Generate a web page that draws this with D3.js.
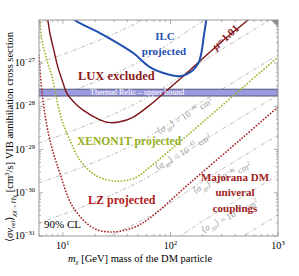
<!DOCTYPE html>
<meta charset="utf-8">
<head>
<style>
  body { margin: 0; background: #fff; }
  text { font-family: "Liberation Serif", "DejaVu Serif", serif; }
</style>
</head>
<body>
<script src="https://cdn.jsdelivr.net/npm/d3@7"></script>
<script>

// axis ticks
var xMajor = [10, 100, 1000];
var xMajorExp = ["1", "2", "3"];
var yMajor = [1e-31, 1e-30, 1e-29, 1e-28, 1e-27];
var yMajorExp = ["\u221231", "\u221230", "\u221229", "\u221228", "\u221227"];

// ILC projected
var ilcMass  = [11.6, 12.9, 22.1, 44.8, 64.4, 92.7, 122, 162, 184, 196, 203, 214, 223];
var ilcSigma = [1.4e-26, 1.0e-26, 5.0e-27, 1.74e-27, 8.1e-28, 5.6e-28, 5.0e-28, 6.9e-28, 1.07e-27, 2.0e-27, 3.8e-27, 9e-27, 1.7e-26];

// LUX excluded (joins the mu=1.01 line)
var luxMass  = [6.95, 7.24, 7.57, 8.24, 8.98, 10.0, 10.9, 12.9, 15.3, 22.1, 27.4, 33.9, 44.8, 64.4, 98.9, 152, 288, 526, 611];
var luxSigma = [1.55e-26, 1e-26, 5e-27, 2.0e-27, 8.1e-28, 3.6e-28, 2.0e-28, 1.2e-28, 8.3e-29, 4.9e-29, 4.2e-29, 4.4e-29, 5.6e-29, 1.07e-28, 2.7e-28, 6.9e-28, 2.9e-27, 1e-26, 1.4e-26];

// XENON1T projected
var xenonMass  = [6.11, 6.38, 7.10, 8.07, 8.79, 9.79, 11.6, 14.4, 19.9, 30.4, 46.8, 64.4, 145, 443, 1000];
var xenonSigma = [1e-26, 3.44e-27, 1.19e-27, 4.08e-28, 1.41e-28, 4.84e-29, 1.67e-29, 5.74e-30, 2.58e-30, 1.87e-30, 2.20e-30, 3.95e-30, 2.18e-29, 2.4e-28, 1.39e-27];

// LZ projected
var lzMass  = [6.0, 6.52, 7.57, 9.37, 12.4, 19.0, 27.4, 44.8, 64.4, 152, 443, 1000];
var lzSigma = [1.55e-27, 1.41e-28, 1.67e-29, 2.9e-30, 4.7e-31, 1.55e-31, 1.24e-31, 1.55e-31, 2.61e-31, 1.69e-30, 1.67e-29, 9.7e-29];

// thermal relic band
var relicBand = [1.74e-28, 2.5e-28];

// constant <sigma_chi p> lines, 1e-40 ... 1e-48 cm^2
var isoMass = [6, 22.1, 64.4, 188, 1000];
var isoSigma = [
  [8.53e-27, 2.90e-26, 1.04e-25, 6.05e-25, 7.83e-24],
  [1.01e-27, 3.44e-27, 1.24e-26, 7.18e-26, 9.29e-25],
  [1.20e-28, 4.08e-28, 1.47e-27, 8.53e-27, 1.10e-25],
  [1.42e-29, 4.84e-29, 1.74e-28, 1.01e-27, 1.31e-26],
  [1.69e-30, 5.74e-30, 2.07e-29, 1.20e-28, 1.55e-27],
  [2.00e-31, 6.81e-31, 2.45e-30, 1.42e-29, 1.84e-28],
  [2.37e-32, 8.07e-32, 2.90e-31, 1.69e-30, 2.18e-29],
  [2.81e-33, 9.57e-33, 3.44e-32, 2.00e-31, 2.58e-30],
  [3.33e-34, 1.14e-33, 4.08e-33, 2.37e-32, 3.06e-31]
];
var isoLabelExp = ["\u221244", "\u221245", "\u221246", "\u221247"];
var isoLabelAt = [[136, 6.0e-29], [131, 8.8e-30], [301, 2.2e-30], [357, 2.9e-31]];
var isoLabelAngle = [-30, -30, -24, -27];

var width = 299, height = 276;

var x = d3.scaleLog().domain([6, 1000]).range([39, 278]);
var y = d3.scaleLog().domain([1e-31, 1e-26]).range([236, 20]);

var svg = d3.select("body").append("svg")
    .attr("width", width)
    .attr("height", height);

svg.append("defs").append("clipPath").attr("id", "plot")
  .append("rect")
    .attr("x", x.range()[0]).attr("y", y.range()[1])
    .attr("width", x.range()[1] - x.range()[0])
    .attr("height", y.range()[0] - y.range()[1]);

var plot = svg.append("g").attr("clip-path", "url(#plot)");

var line = d3.line()
    .x(function(d) { return x(d[0]); })
    .y(function(d) { return y(d[1]); })
    .curve(d3.curveCatmullRom);

function pts(ms, ss) { return ms.map(function(m, i) { return [m, ss[i]]; }); }

// iso lines
isoSigma.forEach(function(ss) {
  plot.append("path")
    .attr("d", line(pts(isoMass, ss)))
    .attr("fill", "none")
    .attr("stroke", "#aaa")
    .attr("stroke-width", 0.8)
    .attr("stroke-dasharray", "4,2,1,2");
});

// thermal relic band
plot.append("rect")
    .attr("x", x(6)).attr("width", x(1000) - x(6))
    .attr("y", y(relicBand[1]))
    .attr("height", y(relicBand[0]) - y(relicBand[1]))
    .attr("fill", "#9a9ae0")
    .attr("stroke", "#55557a")
    .attr("stroke-width", 1);
svg.append("text")
    .attr("x", 90).attr("y", (y(relicBand[0]) + y(relicBand[1])) / 2 + 2.6)
    .attr("font-size", 8).attr("fill", "#fff")
    .text("Thermal Relic \u2013 upper bound");

// experiments
plot.append("path").attr("d", line(pts(lzMass, lzSigma)))
    .attr("fill", "none").attr("stroke", "#a51e22").attr("stroke-width", 1.7)
    .attr("stroke-linecap", "round").attr("stroke-dasharray", "0.1,3");
plot.append("path").attr("d", line(pts(xenonMass, xenonSigma)))
    .attr("fill", "none").attr("stroke", "#9ab31e").attr("stroke-width", 1.7)
    .attr("stroke-linecap", "round").attr("stroke-dasharray", "0.1,3");
plot.append("path").attr("d", line(pts(luxMass, luxSigma)))
    .attr("fill", "none").attr("stroke", "#7d1416").attr("stroke-width", 1.4);
plot.append("path").attr("d", line(pts(ilcMass, ilcSigma)))
    .attr("fill", "none").attr("stroke", "#1f4fb0").attr("stroke-width", 2);

// frame + ticks
svg.append("rect")
    .attr("x", 39).attr("y", 20).attr("width", 239).attr("height", 216)
    .attr("fill", "none").attr("stroke", "#999").attr("stroke-width", 1);
svg.append("path")
    .attr("d", "M271,20L278,20L278,27Z")
    .attr("fill", "#8a8a8a");

var xMinor = [];
[1, 10, 100].forEach(function(p) { for (var k = 2; k < 10; k++) if (k * p >= 6) xMinor.push(k * p); });
var yMinor = [];
yMajor.concat([1e-26]).forEach(function(p) { for (var k = 2; k < 10; k++) if (k * p < 1e-26) yMinor.push(k * p); });

var ticks = svg.append("g").attr("stroke", "#999").attr("stroke-width", 0.8);
xMinor.concat(xMajor).forEach(function(v) {
  var len = xMajor.indexOf(v) >= 0 ? 4 : 2;
  ticks.append("line").attr("x1", x(v)).attr("x2", x(v)).attr("y1", 236).attr("y2", 236 - len);
  ticks.append("line").attr("x1", x(v)).attr("x2", x(v)).attr("y1", 20).attr("y2", 20 + len);
});
yMinor.concat(yMajor).forEach(function(v) {
  var len = yMajor.indexOf(v) >= 0 ? 4 : 2;
  ticks.append("line").attr("y1", y(v)).attr("y2", y(v)).attr("x1", 39).attr("x2", 39 + len);
  ticks.append("line").attr("y1", y(v)).attr("y2", y(v)).attr("x1", 278).attr("x2", 278 - len);
});

// tick labels
xMajor.forEach(function(v, i) {
  var t = svg.append("text").attr("x", x(v)).attr("y", 249)
      .attr("text-anchor", "middle").attr("font-size", 10);
  t.append("tspan").text("10");
  t.append("tspan").attr("dy", -4).attr("font-size", 7).text(xMajorExp[i]);
});
yMajor.forEach(function(v, i) {
  var t = svg.append("text").attr("x", 35).attr("y", y(v) + 3)
      .attr("text-anchor", "end").attr("font-size", 10);
  t.append("tspan").text("10");
  t.append("tspan").attr("dy", -4).attr("font-size", 6.5).text(yMajorExp[i]);
});

// axis titles
var xt = svg.append("text").attr("x", 140).attr("y", 262)
    .attr("text-anchor", "middle").attr("font-size", 10.5);
xt.append("tspan").attr("font-style", "italic").text("m");
xt.append("tspan").attr("dy", 2).attr("font-size", 7).attr("font-style", "italic").text("\u03c7");
xt.append("tspan").attr("dy", -2).text(" [GeV] mass of the DM particle");

var yt = svg.append("text")
    .attr("transform", "translate(13,137) rotate(-90)")
    .attr("text-anchor", "middle").attr("font-size", 10.5);
yt.append("tspan").text("\u27e8");
yt.append("tspan").attr("font-style", "italic").text("\u03c3v");
yt.append("tspan").attr("dy", 2).attr("font-size", 7).text("rel");
yt.append("tspan").attr("dy", -2).text("\u27e9");
yt.append("tspan").attr("dy", 2.5).attr("font-size", 7).attr("font-style", "italic").text("\u03c7\u03c7\u2192\u2113\u2113\u03b3");
yt.append("tspan").attr("dy", -2.5).text(" [cm");
yt.append("tspan").attr("dy", -4).attr("font-size", 7).text("3");
yt.append("tspan").attr("dy", 4).text("/s] VIB annihilation  cross section");

// iso labels
isoLabelAt.forEach(function(p, i) {
  var t = svg.append("text")
      .attr("transform", "translate(" + x(p[0]) + "," + y(p[1]) + ") rotate(" + isoLabelAngle[i] + ")")
      .attr("text-anchor", "middle").attr("dy", 3).attr("font-size", 9).attr("fill", "#999");
  t.append("tspan").text("\u27e8");
  t.append("tspan").attr("font-style", "italic").text("\u03c3");
  t.append("tspan").attr("dy", 2).attr("font-size", 6).attr("font-style", "italic").text(" \u03c7p");
  t.append("tspan").attr("dy", -2).text("\u27e9 = 10");
  t.append("tspan").attr("dy", -4).attr("font-size", 6).text(isoLabelExp[i]);
  t.append("tspan").attr("dy", 4).text(" cm");
  t.append("tspan").attr("dy", -4).attr("font-size", 6).text("2");
});

// curve labels
function label(txt, px, py, col, size, anchor) {
  return svg.append("text").attr("x", px).attr("y", py)
      .attr("text-anchor", anchor || "start").attr("font-size", size)
      .attr("font-weight", "bold").attr("fill", col).text(txt);
}
label("ILC", 165, 40, "#1f4fb0", 11, "middle");
label("projected", 164, 55, "#1f4fb0", 11, "middle");
label("LUX excluded", 78, 80, "#8b1a1c", 12.5);
label("XENON1T projected", 77, 145, "#95ae1e", 11.5);
label("LZ projected", 88, 204, "#b01c22", 12);
label("Majorana DM", 235, 181, "#a01c20", 11, "middle");
label("univeral", 235, 196, "#a01c20", 11, "middle");
label("couplings", 235, 212, "#a01c20", 11, "middle");

var mu = svg.append("text")
    .attr("transform", "translate(228,40) rotate(-42)")
    .attr("text-anchor", "middle").attr("font-size", 11)
    .attr("font-weight", "bold").attr("fill", "#8b1a1c");
mu.append("tspan").attr("font-style", "italic").text("\u03bc");
mu.append("tspan").text("=1.01");

svg.append("text").attr("x", 44).attr("y", 228).attr("font-size", 11).text("90% CL");

</script>
</body>
